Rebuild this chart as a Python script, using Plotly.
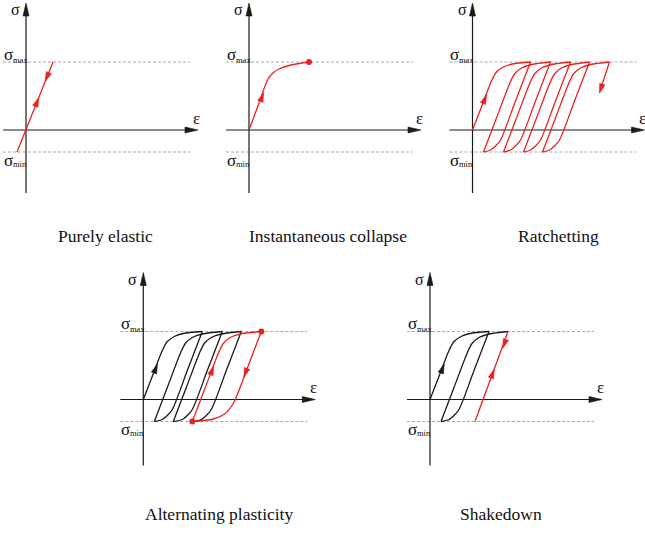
import math
import plotly.graph_objects as go

W, H = 645, 538

# ---------------- data (schematic strain / stress units) ----------------
SIG_MAX = 68
SIG_MIN = -22

TITLES = ["Purely elastic", "Instantaneous collapse", "Ratchetting",
          "Alternating plasticity", "Shakedown"]

# stress values along the branches
LOAD_SIG_FIRST = [0, 24.5, 49, 58, 63, 66, 68]
LOAD_SIG = [-22, 12, 46, 56, 62, 65.5, 68]
UNLOAD_SIG = [68, 29, -10, -16, -20, -22]

# Purely elastic
ELASTIC_EPS = [[-9, 27]]
ELASTIC_SIG = [[-22, 68]]
ELASTIC_COL = ["red"]

# Instantaneous collapse
COLLAPSE_EPS = [[0, 9.5, 19, 24, 30, 40, 60]]
COLLAPSE_SIG = [[0, 25.5, 51, 57, 61, 64.5, 68]]
COLLAPSE_COL = ["red"]

# Ratchetting
RATCHET_EPS = [
    [0, 9.5, 19, 24, 31, 40, 58],
    [58, 43, 28, 23, 18, 11],
    [11, 24, 37, 42, 49, 59, 78],
    [78, 63, 48, 43, 38, 31],
    [31, 44, 57, 62, 69, 79, 98],
    [98, 83, 68, 63, 58, 51],
    [51, 64, 77, 82, 89, 99, 117],
    [117, 102, 87, 82, 77, 70],
    [70, 83, 96, 101, 108, 118, 137],
    [137, 128.5],
]
RATCHET_SIG = [LOAD_SIG_FIRST, UNLOAD_SIG, LOAD_SIG, UNLOAD_SIG, LOAD_SIG,
               UNLOAD_SIG, LOAD_SIG, UNLOAD_SIG, LOAD_SIG, [68, 42]]
RATCHET_COL = ["red"] * 10

# Alternating plasticity
ALT_EPS = [
    [0, 9.5, 19, 24, 31, 40, 59],
    [59, 44, 29, 24, 19, 11],
    [11, 24, 37, 42, 49, 59, 79],
    [79, 64, 49, 44, 39, 30],
    [30, 43, 56, 61, 68, 78, 98],
    [98, 83, 68, 63, 58, 49],
    [49, 62, 75, 80, 87, 97, 118],
    [118, 105, 92, 88, 82, 70, 49],
]
ALT_SIG = [LOAD_SIG_FIRST, UNLOAD_SIG, LOAD_SIG, UNLOAD_SIG, LOAD_SIG,
           UNLOAD_SIG, LOAD_SIG, [68, 34, 0, -7, -14, -19.5, -22]]
ALT_COL = ["black"] * 6 + ["red"] * 2

# Shakedown
SHAKE_EPS = [
    [0, 9.5, 19, 24, 31, 40, 59],
    [59, 44, 29, 24, 19, 11],
    [11, 24, 37, 42, 49, 59, 78],
    [45, 78],
]
SHAKE_SIG = [LOAD_SIG_FIRST, UNLOAD_SIG, LOAD_SIG, [-22, 68]]
SHAKE_COL = ["black", "black", "black", "red"]

# direction arrows on the curves: (eps, sig, d_eps, d_sig, colour)
ELASTIC_ARROWS = [(11, 28, 36, 90, "red"), (21, 53, -36, -90, "red")]
COLLAPSE_ARROWS = [(13, 33, 19, 51, "red")]
RATCHET_ARROWS = [(12.3, 31, 19, 49, "red"), (128.4, 41.3, -10, -31, "red")]
ALT_ARROWS = [(12.4, 31, 19, 49, "black"), (68.8, 29.3, 26, 68, "red"),
              (102.2, 26.6, -26, -68, "red")]
SHAKE_ARROWS = [(12.5, 31, 19, 49, "black"), (62.6, 26, 33, 90, "red"),
                (74.3, 55.5, -33, -90, "red")]

# end-point dots
COLLAPSE_DOTS = [(60, 68)]
ALT_DOTS = [(49, -22), (118, 68)]

# ---------------- layout of the five panels (page pixels) ----------------
PANELS = [
    dict(box=(0, 215, 0, 210), origin=(26, 130), axis_bottom=-63,
         eps=ELASTIC_EPS, sig=ELASTIC_SIG, col=ELASTIC_COL,
         arrows=ELASTIC_ARROWS, dots=[], title_xy=(105, 236)),
    dict(box=(215, 430, 0, 210), origin=(249, 130), axis_bottom=-63,
         eps=COLLAPSE_EPS, sig=COLLAPSE_SIG, col=COLLAPSE_COL,
         arrows=COLLAPSE_ARROWS, dots=COLLAPSE_DOTS, title_xy=(328, 236)),
    dict(box=(430, 645, 0, 210), origin=(472.5, 130), axis_bottom=-63,
         eps=RATCHET_EPS, sig=RATCHET_SIG, col=RATCHET_COL,
         arrows=RATCHET_ARROWS, dots=[], title_xy=(558, 236)),
    dict(box=(100, 330, 255, 475), origin=(143.3, 399.5), axis_bottom=-66,
         eps=ALT_EPS, sig=ALT_SIG, col=ALT_COL,
         arrows=ALT_ARROWS, dots=ALT_DOTS, title_xy=(219, 514)),
    dict(box=(390, 620, 255, 475), origin=(430, 399.5), axis_bottom=-66,
         eps=SHAKE_EPS, sig=SHAKE_SIG, col=SHAKE_COL,
         arrows=SHAKE_ARROWS, dots=[], title_xy=(501, 514)),
]

COLORS = {"red": "#e8231f", "black": "#1a1a1a"}
AXIS_COLOR = "#1a1a1a"
DASH_COLOR = "#a8a8a8"
SERIF = "Liberation Serif, Times New Roman, serif"

AX_LEFT, AX_TIP, AX_TOP = -23, 172, 127
DASH_RIGHT = 164

fig = go.Figure()
layout = dict(width=W, height=H, margin=dict(l=0, r=0, t=0, b=0),
              paper_bgcolor="white", plot_bgcolor="white", showlegend=False)
annotations = []


def refs(i):
    return ("x" if i == 1 else f"x{i}"), ("y" if i == 1 else f"y{i}")


def arrowhead(i, cx, cy, dx, dy, length, half, color):
    xr, yr = refs(i)
    n = math.hypot(dx, dy)
    ux, uy = dx / n, dy / n
    tx, ty = cx + ux * length / 2, cy + uy * length / 2
    bx, by = cx - ux * length / 2, cy - uy * length / 2
    px, py = -uy, ux
    xs = [tx, bx + px * half, bx - px * half, tx]
    ys = [ty, by + py * half, by - py * half, ty]
    fig.add_trace(go.Scatter(x=xs, y=ys, mode="lines", fill="toself",
                             fillcolor=color, line=dict(color=color, width=0.6),
                             xaxis=xr, yaxis=yr, hoverinfo="skip"))


for i, p in enumerate(PANELS, start=1):
    X0, X1, Y0, Y1 = p["box"]
    ox, oy = p["origin"]
    sfx = "" if i == 1 else str(i)
    xr, yr = refs(i)
    layout["xaxis" + sfx] = dict(domain=[X0 / W, X1 / W], range=[X0 - ox, X1 - ox],
                                 visible=False, fixedrange=True, anchor=yr)
    layout["yaxis" + sfx] = dict(domain=[1 - Y1 / H, 1 - Y0 / H], range=[oy - Y1, oy - Y0],
                                 visible=False, fixedrange=True, anchor=xr)

    # dashed stress limits
    for s in (SIG_MAX, SIG_MIN):
        fig.add_trace(go.Scatter(x=[AX_LEFT, DASH_RIGHT], y=[s, s], mode="lines",
                                 line=dict(color=DASH_COLOR, width=1, dash="3px,2px"),
                                 xaxis=xr, yaxis=yr, hoverinfo="skip"))
    # axes
    fig.add_trace(go.Scatter(x=[AX_LEFT, AX_TIP - 10], y=[0, 0], mode="lines",
                             line=dict(color=AXIS_COLOR, width=1.2),
                             xaxis=xr, yaxis=yr, hoverinfo="skip"))
    fig.add_trace(go.Scatter(x=[0, 0], y=[p["axis_bottom"], AX_TOP - 10], mode="lines",
                             line=dict(color=AXIS_COLOR, width=1.2),
                             xaxis=xr, yaxis=yr, hoverinfo="skip"))
    arrowhead(i, AX_TIP - 6.5, 0, 1, 0, 13, 3, AXIS_COLOR)
    arrowhead(i, 0, AX_TOP - 6.5, 0, 1, 13, 3, AXIS_COLOR)

    # curves
    for e, s, c in zip(p["eps"], p["sig"], p["col"]):
        fig.add_trace(go.Scatter(x=e, y=s, mode="lines",
                                 line=dict(color=COLORS[c], width=1.3, shape="spline",
                                           smoothing=0.8),
                                 xaxis=xr, yaxis=yr, hoverinfo="skip"))
    for (ax_, ay_, dx, dy, c) in p["arrows"]:
        arrowhead(i, ax_, ay_, dx, dy, 9.5, 2.8, COLORS[c])
    if p["dots"]:
        fig.add_trace(go.Scatter(x=[d[0] for d in p["dots"]], y=[d[1] for d in p["dots"]],
                                 mode="markers",
                                 marker=dict(color=COLORS["red"], size=6),
                                 xaxis=xr, yaxis=yr, hoverinfo="skip"))

    # labels
    def lab(x, y, text, size, xanchor="center"):
        annotations.append(dict(x=x, y=y, xref=xr, yref=yr, text=text, showarrow=False,
                                xanchor=xanchor, yanchor="middle", borderpad=0,
                                font=dict(family=SERIF, size=size, color="#111")))
    lab(-10.5, 120.5, "σ", 16)
    lab(170, 12, "ε", 17)
    lab(-18, 76, "σ", 17)
    lab(-14.5, 70.5, "max", 8.5, "left")
    lab(-18, -30, "σ", 17)
    lab(-14.5, -33.5, "min", 8.5, "left")

    tx, ty = p["title_xy"]
    annotations.append(dict(x=tx / W, y=1 - ty / H, xref="paper", yref="paper",
                            text=TITLES[i - 1], showarrow=False,
                            xanchor="center", yanchor="middle",
                            font=dict(family=SERIF, size=17.5, color="#111")))

layout["annotations"] = annotations
fig.update_layout(**layout)
fig.write_html("out.html")
